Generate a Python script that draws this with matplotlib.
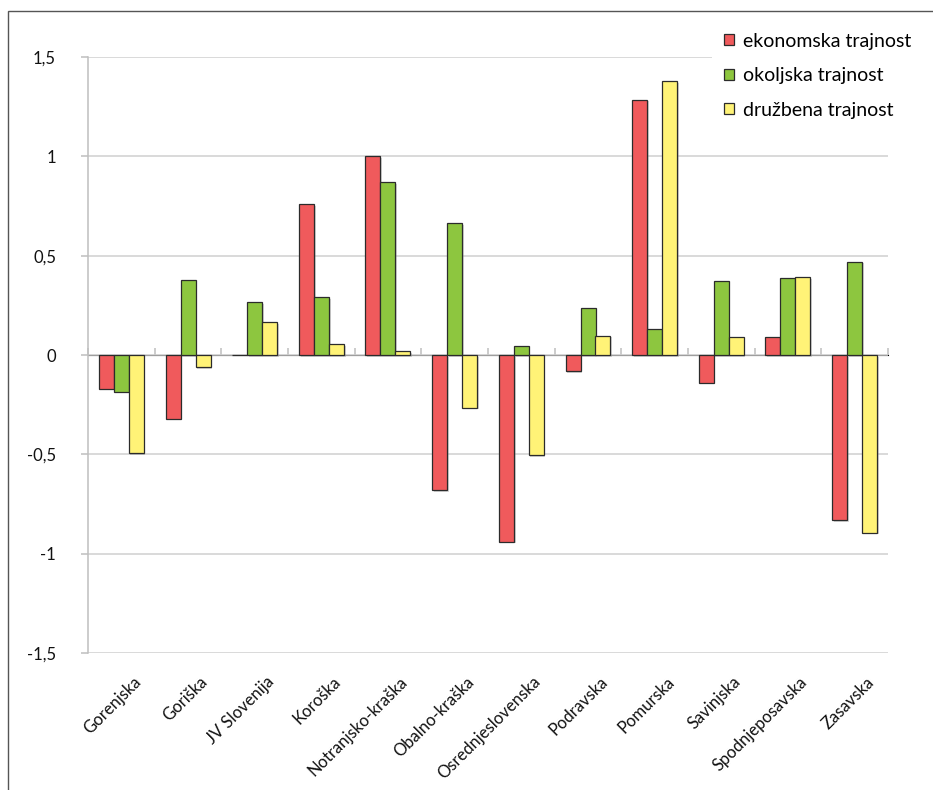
import matplotlib
matplotlib.use("Agg")
import matplotlib.pyplot as plt
import matplotlib.patheffects as pe
import matplotlib.transforms as mtransforms
from matplotlib.patches import Rectangle
from matplotlib.ticker import FuncFormatter
import numpy as np

plt.rcParams['font.family'] = ['Lato', 'DejaVu Sans']

regions = ['Gorenjska', 'Goriška', 'JV Slovenija', 'Koroška', 'Notranjsko-kraška',
           'Obalno-kraška', 'Osrednjeslovenska', 'Podravska', 'Pomurska', 'Savinjska',
           'Spodnjeposavska', 'Zasavska']

ekonomska = [-0.17, -0.32, 0.0, 0.76, 1.0, -0.68, -0.94, -0.08, 1.285, -0.14, 0.09, -0.83]
okoljska = [-0.185, 0.38, 0.265, 0.29, 0.87, 0.665, 0.045, 0.237, 0.13, 0.37, 0.388, 0.47]
druzbena = [-0.495, -0.06, 0.165, 0.055, 0.02, -0.265, -0.505, 0.098, 1.38, 0.093, 0.393, -0.895]

series = [
    ('ekonomska trajnost', ekonomska, '#F05A5C'),
    ('okoljska trajnost', okoljska, '#8DC63F'),
    ('družbena trajnost', druzbena, '#FFF377'),
]

fig = plt.figure(figsize=(9.33, 7.9), dpi=100)
ax = fig.add_axes([88 / 933, 1 - 653 / 790, 800 / 933, 596 / 790])

# okvir grafa
fig.add_artist(Rectangle((8 / 933, -0.1), 1.2, 1 - 11 / 790 + 0.1,
                         transform=fig.transFigure, fill=False,
                         edgecolor='#555555', linewidth=1.0))

x = np.arange(len(regions))
w = 0.225
shadow = [pe.SimplePatchShadow(offset=(1.2, -1.2), shadow_rgbFace='#888888', alpha=0.35),
          pe.Normal()]
for i, (name, vals, col) in enumerate(series):
    ax.bar(x + (i - 1) * w, vals, w, color=col, edgecolor='#2b2b2b',
           linewidth=0.9, label=name, zorder=3, path_effects=shadow)

ax.set_xlim(-0.5, len(regions) - 0.5)
ax.set_ylim(-1.5, 1.5)
ax.set_yticks([-1.5, -1, -0.5, 0, 0.5, 1, 1.5])
ax.yaxis.set_major_formatter(FuncFormatter(lambda v, p: f"{v:g}".replace('.', ',')))
ax.grid(axis='y', color='#CFCFCF', linewidth=1.1, zorder=0)
ax.set_axisbelow(True)

for s in ['top', 'right', 'bottom']:
    ax.spines[s].set_visible(False)
ax.spines['left'].set_color('#BFBFBF')
ax.spines['left'].set_linewidth(1.1)
ax.tick_params(axis='y', colors='#BFBFBF', length=5, width=1.1, labelsize=12,
               labelcolor='#111111', pad=18)

ax.set_xticks(x)
ax.set_xticklabels(regions, rotation=45, ha='right', va='center',
                   rotation_mode='anchor', fontsize=12, color='#111111')
ax.tick_params(axis='x', length=0, pad=19)
shift = mtransforms.ScaledTranslation(0.17, 0, fig.dpi_scale_trans)
for lab in ax.get_xticklabels():
    lab.set_transform(lab.get_transform() + shift)

# os x pri 0 z oznakami med kategorijami
sec = ax.secondary_xaxis(0.5)
sec.set_xticks(np.arange(len(regions) + 1) - 0.5)
sec.set_xticklabels([])
sec.spines['bottom'].set_color('#BFBFBF')
sec.spines['bottom'].set_linewidth(1.1)
sec.tick_params(axis='x', colors='#BFBFBF', length=5, width=1.1, direction='out')

leg = ax.legend(loc='upper left', bbox_to_anchor=(712 / 933, 1 - 21 / 790),
                bbox_transform=fig.transFigure, frameon=True, fontsize=14,
                handlelength=0.52, handleheight=0.52, handletextpad=0.45,
                labelspacing=0.9, borderaxespad=0, borderpad=0.6)
leg.get_frame().set_edgecolor('none')
leg.get_frame().set_facecolor('white')
leg.get_frame().set_alpha(1)
leg.set_zorder(10)
for h in leg.legend_handles:
    h.set_path_effects([])

fig.savefig('out.png', dpi=100)
